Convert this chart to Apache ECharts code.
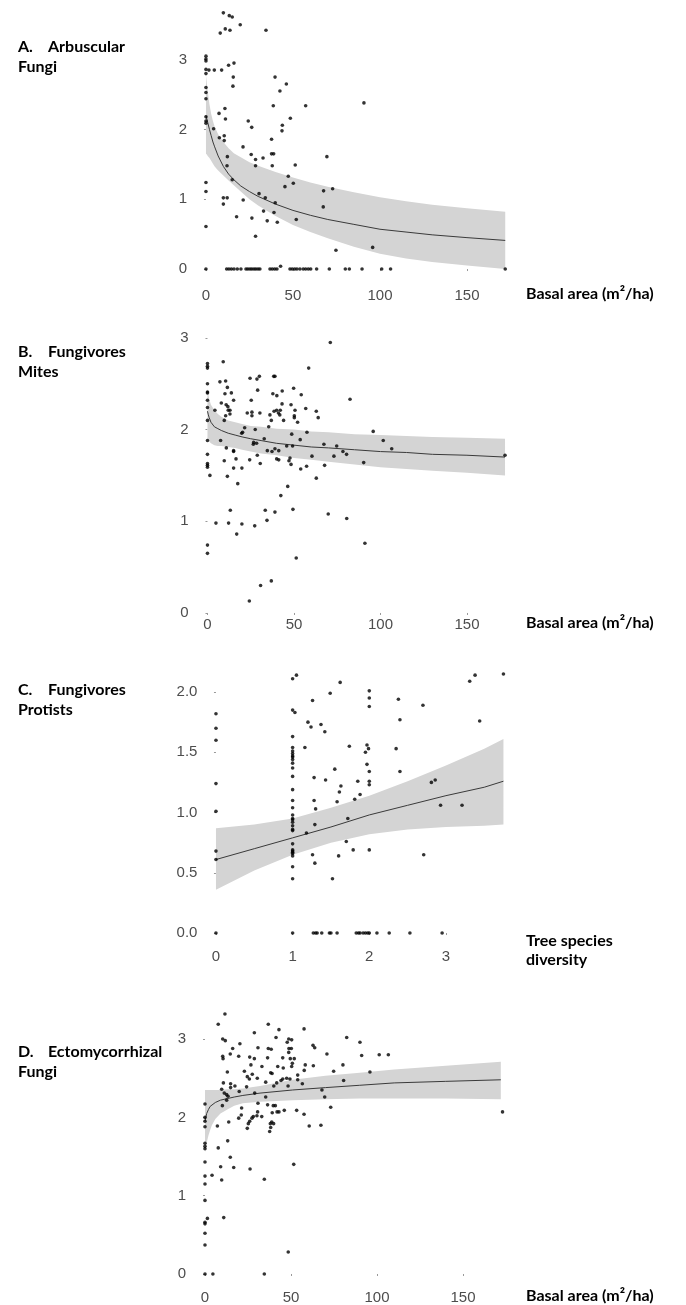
<!DOCTYPE html>
<html>
<head>
<meta charset="utf-8">
<script src="https://cdn.jsdelivr.net/npm/echarts@6/dist/echarts.min.js"></script>
<style>body{margin:0;background:#fff;}</style>
</head>
<body>
<div id="main" style="width:686px;height:1305px;"></div>

<script type="text/javascript">
// ---- data ----
// A. Arbuscular fungi vs basal area
var aPoints = [
  [10,3.67],[13.4,3.63],[15.1,3.61],[19.7,3.50],[8.2,3.38],[11.1,3.44],[13.8,3.42],[34.5,3.42],
  [0,3.05],[0,3.01],[0,2.98],[0,2.86],[1.7,2.85],[0,2.80],[4.8,2.85],[9,2.85],[13,2.92],[16.1,2.95],
  [15.7,2.75],[15.5,2.62],[39.7,2.75],[46.2,2.65],[42.5,2.55],[90.8,2.38],[38.7,2.34],[57.3,2.34],
  [0,2.60],[0,2.53],[0,2.44],[0,2.18],[0,2.12],[0,2.09],
  [10.9,2.30],[7.5,2.23],[11.2,2.15],[24.3,2.12],[26.3,2.03],[48.5,2.16],[43.9,2.06],[43.7,1.98],
  [4.4,2.01],[7.7,1.88],[10.5,1.91],[10.5,1.84],[37.7,1.86],[21.3,1.75],[12.3,1.61],[26,1.64],
  [28.5,1.57],[32.8,1.59],[37.7,1.65],[38.9,1.65],[69.5,1.61],
  [12.1,1.48],[28.5,1.48],[38.1,1.48],[51.3,1.49],[47.3,1.33],[50.2,1.23],[45.4,1.18],[15.1,1.28],
  [0,1.24],[0,1.11],[30.5,1.08],[34.1,1.02],[10,1.02],[12.2,1.02],[10,0.93],[21.4,0.99],[39.8,0.95],
  [67.6,1.12],[72.8,1.15],[67.4,0.89],[33.1,0.83],[39.1,0.81],[17.6,0.75],[26.4,0.73],[35.2,0.69],
  [41,0.67],[51.9,0.71],[0,0.61],[28.5,0.47],[74.7,0.27],[95.8,0.31],
  [0,0],[11.9,0],[13.2,0],[14.6,0],[16.1,0],[18,0],[20.1,0],[23,0],[24.1,0],[25.3,0],[26.4,0],
  [27.6,0],[28.7,0],[29.9,0],[31,0],[36.8,0],[38.1,0],[39.5,0],[40.8,0],[42.9,0.04],[48.3,0],
  [49.6,0],[51,0],[52.3,0],[54,0],[55.9,0],[57.3,0],[58.8,0],[60.2,0],[63.6,0],[70.9,0],[80.1,0],
  [82.4,0],[89.7,0],[101,0],[106.1,0],[172,0]
];
var aFitX  = [0, 0.5, 1, 2, 3, 4, 5, 7, 10, 13, 16, 20, 25, 30, 40, 50, 60, 70, 85, 100, 115, 130, 150, 172];
var aFit   = [2.20, 2.15, 2.10, 2.00, 1.91, 1.82, 1.75, 1.62, 1.47, 1.36, 1.28, 1.19, 1.11, 1.04, 0.93, 0.84, 0.77, 0.71, 0.64, 0.57, 0.53, 0.49, 0.45, 0.41];
var aUpper = [2.78, 2.66, 2.55, 2.36, 2.22, 2.12, 2.04, 1.93, 1.82, 1.73, 1.66, 1.60, 1.53, 1.48, 1.39, 1.31, 1.24, 1.18, 1.10, 1.03, 0.97, 0.92, 0.87, 0.82];
var aLower = [1.65, 1.64, 1.62, 1.59, 1.55, 1.51, 1.47, 1.41, 1.34, 1.27, 1.20, 1.11, 1.00, 0.91, 0.76, 0.63, 0.53, 0.44, 0.32, 0.22, 0.15, 0.10, 0.05, 0.00];

// B. Fungivorous mites vs basal area
var bPoints = [
  [0,2.72],[0,2.69],[0,2.67],[9.1,2.74],[58.5,2.67],[71,2.95],
  [0,2.50],[7.2,2.52],[10.5,2.53],[11.5,2.46],[24.6,2.56],[28.6,2.55],[30,2.58],[38.3,2.58],[39,2.58],[49.8,2.45],
  [0,2.41],[0,2.40],[10.1,2.39],[13.8,2.40],[29,2.43],[37.8,2.39],[40.1,2.37],[43.2,2.42],[54.2,2.38],[82.4,2.33],
  [0,2.32],[8,2.29],[10.8,2.27],[11.8,2.25],[15.1,2.32],[25.3,2.32],[43.1,2.28],[48.3,2.27],[56.8,2.23],
  [0,2.24],[4.3,2.21],[12,2.21],[13,2.21],[10.5,2.15],[9.7,2.10],[13,2.17],[23,2.18],[25.7,2.19],[25.7,2.15],
  [30.3,2.18],[36.1,2.16],[38.5,2.20],[40,2.21],[41,2.18],[41.8,2.16],[42.1,2.21],[44,2.10],[50.2,2.15],
  [50.2,2.13],[50.6,2.21],[52.1,2.08],[62.9,2.20],[64,2.13],
  [0,2.10],[36.9,2.10],[35.4,2.03],[21.5,2.02],[20.3,1.97],[19.8,1.96],[27.6,2.00],[48.7,1.95],[57.5,1.97],
  [95.8,1.98],[101.6,1.88],[106.5,1.79],
  [0,1.88],[7.6,1.88],[32.8,1.90],[26.7,1.86],[26.5,1.84],[28.4,1.85],[53.6,1.89],[45.8,1.82],[49.2,1.82],
  [67.3,1.84],[74.7,1.82],[10.9,1.80],[15.1,1.77],[15.1,1.76],[34.6,1.77],[37.3,1.76],[39,1.79],[41.2,1.77],
  [78.3,1.76],[80.4,1.73],
  [0,1.73],[28.8,1.72],[60.4,1.71],[73.1,1.71],[47.7,1.69],[47.1,1.66],[40,1.68],[41.2,1.67],[9.7,1.66],
  [16.5,1.68],[24.4,1.67],[0,1.63],[0,1.61],[0,1.59],[30.5,1.63],[48.3,1.62],[90.3,1.64],[57.3,1.60],
  [67.7,1.61],[15.1,1.58],[19.9,1.58],[53.9,1.57],[1.4,1.50],[11.5,1.49],[62.9,1.47],
  [17.5,1.41],[46.4,1.38],[42.4,1.28],[13.2,1.12],[33.4,1.12],[39,1.10],[49.4,1.13],[69.8,1.08],[80.5,1.03],
  [4.9,0.98],[12.2,0.98],[19.9,0.97],[27.3,0.95],[34.4,1.01],[16.9,0.86],[0,0.74],[0,0.65],[91,0.76],
  [51.3,0.60],[36.9,0.35],[30.7,0.30],[24.2,0.13],[172,1.72]
];
var bFitX  = [0, 0.5, 1, 2, 4, 6, 8, 12, 16, 20, 25, 31, 40, 50, 60, 70, 85, 100, 115, 130, 150, 172];
var bFit   = [2.20, 2.16, 2.13, 2.08, 2.03, 2.01, 1.99, 1.96, 1.94, 1.92, 1.90, 1.88, 1.85, 1.83, 1.81, 1.80, 1.78, 1.76, 1.75, 1.73, 1.72, 1.70];
var bUpper = [2.45, 2.38, 2.33, 2.27, 2.21, 2.17, 2.14, 2.10, 2.08, 2.06, 2.04, 2.03, 2.01, 2.00, 1.98, 1.97, 1.95, 1.94, 1.93, 1.92, 1.91, 1.90];
var bLower = [1.89, 1.88, 1.87, 1.85, 1.83, 1.82, 1.82, 1.81, 1.80, 1.78, 1.76, 1.74, 1.72, 1.69, 1.67, 1.65, 1.62, 1.59, 1.57, 1.55, 1.53, 1.50];

// C. Fungivorous protists vs tree species diversity
var cPoints = [
  [0,1.82],[0,1.70],[0,1.60],[0,1.24],[0,1.01],[0,0.68],[0,0.61],[0,0],
  [1,2.11],[1.05,2.14],[1,1.85],[1.03,1.83],[1,1.63],[1,1.54],[1,1.51],[1,1.49],[1,1.47],[1,1.46],[1,1.44],
  [1,1.41],[1,1.37],[1,1.30],[1,1.19],[1,1.10],[1,1.04],[1,0.98],[1,0.95],[1,0.94],[1,0.92],[1,0.89],[1,0.86],
  [1,0.85],[1,0.74],[1,0.69],[1,0.68],[1,0.67],[1,0.66],[1,0.64],[1,0.55],[1,0.45],[1,0],
  [1.26,1.93],[1.49,1.99],[1.62,2.08],[2,2.01],[2,1.95],[2,1.88],[2.38,1.94],[2.70,1.89],[2.40,1.77],
  [3.31,2.09],[3.38,2.14],[3.75,2.15],[3.44,1.76],[1.20,1.75],[1.24,1.71],[1.37,1.73],[1.42,1.67],[1.16,1.54],
  [1.74,1.55],[1.97,1.56],[1.99,1.53],[1.95,1.50],[2.35,1.53],[1.97,1.40],[2,1.34],[2.40,1.34],[1.55,1.36],
  [1.28,1.29],[1.43,1.27],[1.85,1.26],[2,1.26],[2,1.23],[1.63,1.22],[1.61,1.17],[1.88,1.15],[1.81,1.11],
  [1.58,1.09],[1.28,1.10],[1.30,1.03],[2.81,1.25],[2.86,1.27],[2.93,1.06],[3.21,1.06],
  [1.29,0.90],[1.18,0.83],[1.72,0.95],[1.70,0.76],[1.79,0.69],[2,0.69],[1.26,0.65],[1.60,0.64],[1.29,0.58],
  [1.52,0.45],[2.71,0.65],
  [1.27,0],[1.30,0],[1.32,0],[1.38,0],[1.48,0],[1.50,0],[1.58,0],[1.83,0],[1.86,0],[1.88,0],[1.92,0],
  [1.95,0],[1.98,0],[2.0,0],[2.10,0],[2.26,0],[2.53,0],[2.95,0]
];
var cFitX  = [0, 0.5, 1, 1.5, 2, 2.5, 3, 3.5, 3.75];
var cFit   = [0.61, 0.70, 0.79, 0.88, 0.98, 1.06, 1.14, 1.21, 1.26];
var cUpper = [0.87, 0.90, 0.95, 1.04, 1.14, 1.26, 1.39, 1.53, 1.61];
var cLower = [0.36, 0.52, 0.65, 0.75, 0.82, 0.86, 0.88, 0.89, 0.90];

// D. Ectomycorrhizal fungi vs basal area
var dPoints = [
  [11.6,3.32],[7.7,3.19],[36.8,3.19],[57.6,3.13],[43,3.12],[28.7,3.08],[10.3,3.00],[11.8,2.98],[20.3,2.94],
  [41.3,3.02],[48.7,3.00],[50.4,2.99],[47.8,2.96],[62.8,2.92],[63.8,2.89],[82.4,3.02],[90.1,2.96],[16.1,2.88],
  [30.8,2.89],[36.8,2.88],[38.5,2.87],[48.8,2.88],[50.2,2.88],[14.7,2.81],[10.3,2.78],[10.5,2.75],[19.6,2.78],
  [26,2.77],[28.7,2.75],[36.4,2.76],[45.2,2.76],[49.6,2.75],[51.9,2.75],[48.7,2.83],[70.9,2.81],[91.1,2.79],
  [101.3,2.80],[106.6,2.80],[26.7,2.67],[33.1,2.65],[42.3,2.65],[45.5,2.63],[50.8,2.69],[50.4,2.65],[58.3,2.67],
  [63,2.66],[80.2,2.67],[13,2.58],[22.9,2.59],[24.6,2.52],[25.8,2.49],[27.5,2.55],[38.2,2.57],[39,2.56],
  [57.7,2.60],[74.8,2.59],[95.9,2.58],[30.4,2.50],[35.3,2.45],[45.2,2.49],[47.5,2.50],[49.4,2.49],[53.9,2.54],
  [53.9,2.48],[41.7,2.44],[44.2,2.47],[40,2.40],[48.3,2.40],[56.6,2.43],[80.6,2.47],[10.7,2.44],[14.9,2.43],
  [17.4,2.40],[14.9,2.38],[24.2,2.39],[9.7,2.36],[19.9,2.33],[11.2,2.31],[12.6,2.29],[13.4,2.27],[28.9,2.31],
  [35.3,2.26],[68,2.35],[69.6,2.26],[12.6,2.22],[10.1,2.15],[30.8,2.18],[36.4,2.16],[39.7,2.15],[40.9,2.15],
  [41.9,2.07],[39.1,2.06],[43,2.07],[46.1,2.09],[73.1,2.13],[53.3,2.09],[57.6,2.04],[21.3,2.12],[30.6,2.07],
  [30.2,2.02],[21.1,2.03],[19.6,1.99],[28.1,2.01],[27.3,1.99],[33,2.01],[26,1.95],[25.2,1.92],[38,1.92],
  [38.8,1.94],[39.9,1.92],[38.2,1.87],[37.6,1.82],[13.8,1.94],[7.2,1.89],[24.6,1.86],[60.6,1.89],[67.4,1.90],
  [13.2,1.70],
  [0,2.17],[0,2.00],[0,1.95],[0,1.88],[0,1.67],[0,1.63],[0,1.60],[0,1.43],[0,1.25],[0,1.15],[0,0.94],
  [0,0.66],[0,0.64],[0,0.52],[0,0.37],[0,0],
  [4.1,1.26],[9.1,1.37],[14.7,1.49],[16.7,1.36],[26.2,1.34],[34.5,1.21],[9.7,1.20],[51.6,1.40],[1.4,0.71],
  [10.9,0.72],[48.4,0.28],[4.6,0],[34.5,0],[7.7,1.61],[173,2.07]
];
var dFitX  = [0, 0.5, 1, 2, 3, 4, 6, 9, 13, 17, 22, 32, 51, 70, 90, 110, 140, 172];
var dFit   = [1.95, 2.00, 2.05, 2.10, 2.14, 2.16, 2.19, 2.22, 2.24, 2.26, 2.28, 2.31, 2.35, 2.38, 2.41, 2.44, 2.46, 2.48];
var dUpper = [2.35, 2.35, 2.35, 2.35, 2.35, 2.35, 2.35, 2.35, 2.36, 2.36, 2.37, 2.40, 2.48, 2.53, 2.57, 2.61, 2.66, 2.71];
var dLower = [1.55, 1.62, 1.68, 1.77, 1.84, 1.90, 1.98, 2.05, 2.10, 2.15, 2.18, 2.20, 2.22, 2.23, 2.24, 2.24, 2.24, 2.23];

// tick labels
var basalTicks = [0, 50, 100, 150];
var diversityTicks = [0, 1, 2, 3];
var aYTicks = [0, 1, 2, 3];
var bYTicks = [0, 1, 2, 3];
var cYTicks = [0, 0.5, 1.0, 1.5, 2.0];
var dYTicks = [0, 1, 2, 3];

// panel texts
var panelTags = ['A.', 'B.', 'C.', 'D.'];
var panelNames = [['Arbuscular', 'Fungi'], ['Fungivores', 'Mites'], ['Fungivores', 'Protists'], ['Ectomycorrhizal', 'Fungi']];
var axisTitles = [['Basal area (m\u00b2/ha)'], ['Basal area (m\u00b2/ha)'], ['Tree species', 'diversity'], ['Basal area (m\u00b2/ha)']];

// ---- layout ----
var panels = [
  {pts: aPoints, fx: aFitX, fit: aFit, up: aUpper, lo: aLower, xt: basalTicks, yt: aYTicks, dec: 0,
   box: {left: 191.0, top: 0.3, width: 329.2, height: 281.3}, x: [-8.6, 180.6], y: [-0.18, 3.85], xm: 7, titleY: 47, axisY: 294},
  {pts: bPoints, fx: bFitX, fit: bFit, up: bUpper, lo: bLower, xt: basalTicks, yt: bYTicks, dec: 0,
   box: {left: 192.6, top: 329.6, width: 327.3, height: 284.3}, x: [-8.6, 180.6], y: [-0.01, 3.09], xm: 3, titleY: 352, axisY: 623},
  {pts: cPoints, fx: cFitX, fit: cFit, up: cUpper, lo: cLower, xt: diversityTicks, yt: cYTicks, dec: 1,
   box: {left: 201.4, top: 660.7, width: 316.6, height: 285.6}, x: [-0.19, 3.94], y: [-0.11, 2.26], xm: 3, titleY: 690, axisY: 941},
  {pts: dPoints, fx: dFitX, fit: dFit, up: dUpper, lo: dLower, xt: basalTicks, yt: dYTicks, dec: 0,
   box: {left: 190.2, top: 1000.7, width: 325.4, height: 286.6}, x: [-8.6, 180.6], y: [-0.17, 3.49], xm: 3, titleY: 1052, axisY: 1296}
];

var labelStyle = {color: '#4d4d4d', fontSize: 15, fontFamily: 'Liberation Sans'};
var grids = [], xAxes = [], yAxes = [], series = [], graphics = [];

panels.forEach(function (p, i) {
  grids.push({left: p.box.left, top: p.box.top, width: p.box.width, height: p.box.height,
              containLabel: false, outerBoundsMode: 'none'});
  xAxes.push({
    gridIndex: i, type: 'value', min: p.x[0], max: p.x[1],
    axisLine: {show: false}, splitLine: {show: false},
    axisTick: {show: true, length: 2, lineStyle: {color: '#999'}, customValues: p.xt},
    axisLabel: {customValues: p.xt, margin: p.xm, color: labelStyle.color, fontSize: labelStyle.fontSize, fontFamily: labelStyle.fontFamily}
  });
  yAxes.push({
    gridIndex: i, type: 'value', min: p.y[0], max: p.y[1],
    axisLine: {show: false}, splitLine: {show: false},
    axisTick: {show: true, length: 2, lineStyle: {color: '#999'}, customValues: p.yt},
    axisLabel: {customValues: p.yt, margin: 4, color: labelStyle.color, fontSize: labelStyle.fontSize, fontFamily: labelStyle.fontFamily,
      formatter: (function (d) { return function (v) { return v.toFixed(d); }; })(p.dec)}
  });

  // confidence band as one polygon: upper edge left->right, lower edge right->left
  series.push({
    type: 'custom', xAxisIndex: i, yAxisIndex: i, silent: true, z: 1,
    data: [[p.fx[0], p.fit[0]]],
    renderItem: function (params, api) {
      var ring = [];
      for (var k = 0; k < p.fx.length; k++) ring.push(api.coord([p.fx[k], p.up[k]]));
      for (var j = p.fx.length - 1; j >= 0; j--) ring.push(api.coord([p.fx[j], p.lo[j]]));
      return {type: 'polygon', shape: {points: ring}, style: {fill: '#d4d4d4'}};
    }
  });
  // fitted curve
  series.push({
    type: 'line', xAxisIndex: i, yAxisIndex: i, symbol: 'none', silent: true, z: 2,
    lineStyle: {color: '#3a3a3a', width: 1},
    data: p.fx.map(function (x, k) { return [x, p.fit[k]]; })
  });
  // observations
  series.push({
    type: 'scatter', xAxisIndex: i, yAxisIndex: i, symbolSize: 3.6, z: 5,
    itemStyle: {color: '#000'}, data: p.pts
  });

  // panel title
  var tStyle = {fill: '#000', font: 'bold 16px Lato, "Open Sans", sans-serif', textVerticalAlign: 'middle'};
  graphics.push({type: 'text', left: 18, top: p.titleY - 8, style: Object.assign({text: panelTags[i]}, tStyle)});
  graphics.push({type: 'text', left: 48, top: p.titleY - 8, style: Object.assign({text: panelNames[i][0]}, tStyle)});
  graphics.push({type: 'text', left: 18, top: p.titleY + 12, style: Object.assign({text: panelNames[i][1]}, tStyle)});
  // x axis title
  axisTitles[i].forEach(function (s, k) {
    graphics.push({type: 'text', left: 526, top: p.axisY - 8 + k * 19, style: Object.assign({text: s}, tStyle)});
  });
});

var option = {
  backgroundColor: '#fff',
  animation: false,
  grid: grids,
  xAxis: xAxes,
  yAxis: yAxes,
  series: series,
  graphic: graphics
};

var myChart = echarts.init(document.getElementById('main'));
myChart.setOption(option);
</script>
</body>
</html>
